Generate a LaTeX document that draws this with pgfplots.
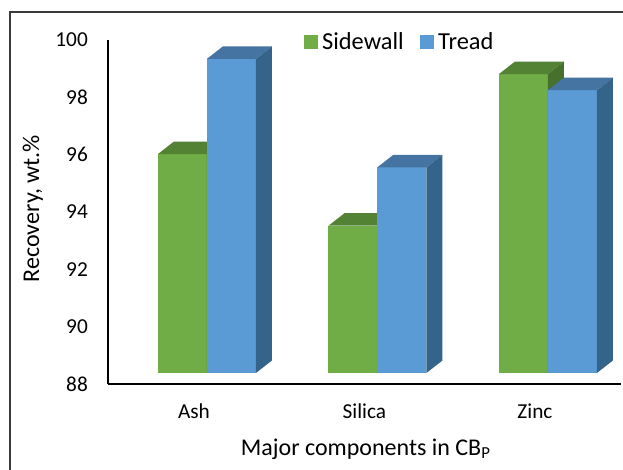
\documentclass[border=0pt]{standalone}
\usepackage{fontspec}
\setmainfont{Carlito}
\usepackage{pgfplots}
\pgfplotsset{compat=1.18}
\usepackage{pgfplotstable}

\definecolor{swfront}{HTML}{70AD47}
\definecolor{swtop}{HTML}{548235}
\definecolor{swside}{HTML}{46702B}
\definecolor{trfront}{HTML}{5B9BD5}
\definecolor{trtop}{HTML}{4574A3}
\definecolor{trside}{HTML}{35648A}
\definecolor{framegray}{HTML}{3A3A3A}

\pgfplotstableread{
x val
0 96.02
1 93.52
2 98.81
}\sidewall
\pgfplotstableread{
x val
0 99.34
1 95.56
2 98.25
}\tread

\newcommand\barbase{88.384}
\newcommand\barthreed[4]{%
  \pgfmathsetlengthmacro\hh{(\barval-\barbase)*28.67bp}%
  \pgfsetfillcolor{#1}%
  \pgfpathrectanglecorners{\pgfpoint{#4-24.5bp}{-\hh}}{\pgfpoint{#4+24.5bp}{0pt}}%
  \pgfusepath{fill}%
  \pgfsetfillcolor{#2}%
  \pgfpathmoveto{\pgfpoint{#4-24.5bp}{0pt}}%
  \pgfpathlineto{\pgfpoint{#4+24.5bp}{0pt}}%
  \pgfpathlineto{\pgfpoint{#4+40.5bp}{12.5bp}}%
  \pgfpathlineto{\pgfpoint{#4-8.5bp}{12.5bp}}%
  \pgfpathclose
  \pgfusepath{fill}%
  \pgfsetfillcolor{#3}%
  \pgfpathmoveto{\pgfpoint{#4+24.5bp}{0pt}}%
  \pgfpathlineto{\pgfpoint{#4+40.5bp}{12.5bp}}%
  \pgfpathlineto{\pgfpoint{#4+40.5bp}{12.5bp-\hh}}%
  \pgfpathlineto{\pgfpoint{#4+24.5bp}{-\hh}}%
  \pgfpathclose
  \pgfusepath{fill}%
}
\pgfdeclareplotmark{swbar}{\barthreed{swfront}{swtop}{swside}{-11.5bp}}
\pgfdeclareplotmark{trbar}{\barthreed{trfront}{trtop}{trside}{37.5bp}}

\begin{document}
\begin{tikzpicture}
\begin{axis}[
  at={(0,0)}, anchor=south west,
  x=170.5bp, y=28.67bp,
  xmin=-0.504, xmax=2.504, ymin=88, ymax=100,
  axis lines*=left,
  axis line style={black, line width=1.5bp},
  clip=false,
  xtick={0,1,2}, xticklabels={Ash,Silica,Zinc},
  ytick={88,90,...,100},
  major tick length=0pt,
  tick style={draw=none},
  /pgf/number format/assume math mode=true,
  tick label style={font=\fontsize{21.3bp}{25bp}\selectfont, inner sep=0pt},
  yticklabel style={anchor=east, xshift=-20bp},
  xticklabel style={anchor=base, yshift=-34bp},
  xlabel={Major components in CB\textsubscript{P}},
  ylabel={Recovery, wt.\%},
  label style={font=\fontsize{24bp}{28bp}\selectfont, inner sep=0pt},
  xlabel style={at={(axis description cs:0.5025,-0.2064)}, anchor=base},
  ylabel style={at={(axis description cs:-0.1466,0.510)}, anchor=center},
  legend columns=2,
  legend style={draw=none, fill=none, at={(0.3812,0.9956)}, anchor=west,
    inner sep=0pt, font=\fontsize{24.4bp}{28bp}\selectfont,
    nodes={inner sep=0pt},
    /tikz/every odd column/.append style={column sep=5bp},
    /tikz/every even column/.append style={column sep=16bp}},
]
\addplot[only marks, mark=swbar,
  visualization depends on={rawy \as \barval},
  legend image code/.code={\fill[swfront] (0bp,-6.5bp) rectangle (13bp,6.5bp);}]
  table[x=x, y=val] {\sidewall};
\addlegendentry{Sidewall}
\addplot[only marks, mark=trbar,
  visualization depends on={rawy \as \barval},
  legend image code/.code={\fill[trfront] (0bp,-6.5bp) rectangle (13bp,6.5bp);}]
  table[x=x, y=val] {\tread};
\addlegendentry{Tread}
\end{axis}
\draw[framegray, line width=1.2bp] (-98bp,-90bp) -- (-98bp,372bp) -- (520bp,372bp);
\pgfresetboundingbox
\useasboundingbox (-108bp,-86bp) rectangle (515bp,384bp);
\end{tikzpicture}
\end{document}
